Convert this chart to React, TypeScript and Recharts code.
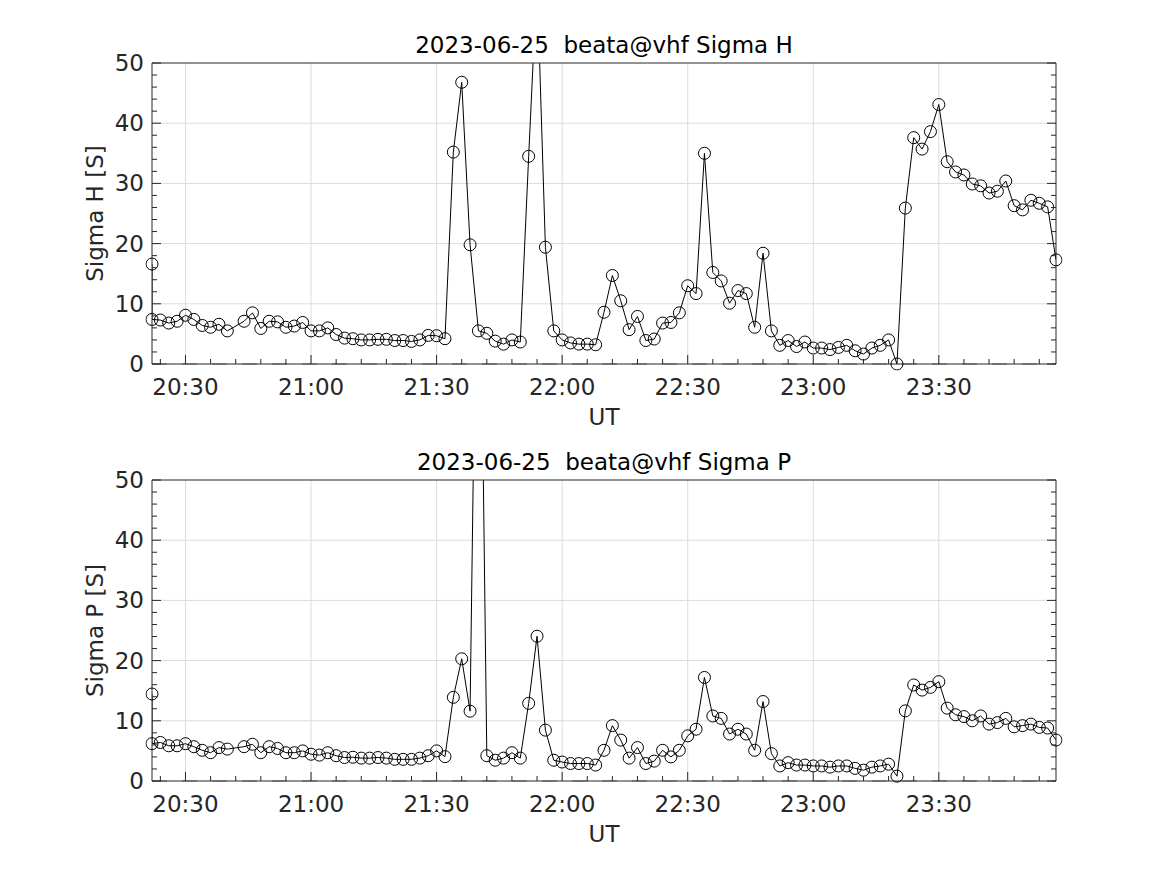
import React from 'react';
import { LineChart, Line, XAxis, YAxis, ReferenceLine } from 'recharts';

// ---- data ----
const times: string[] = [
  '20:22', '20:22', '20:24', '20:26', '20:28', '20:30', '20:32', '20:34', '20:36', '20:38', '20:40',
  '20:44', '20:46', '20:48', '20:50', '20:52', '20:54', '20:56', '20:58',
  '21:00', '21:02', '21:04', '21:06', '21:08', '21:10', '21:12', '21:14', '21:16', '21:18',
  '21:20', '21:22', '21:24', '21:26', '21:28', '21:30', '21:32', '21:34', '21:36', '21:38',
  '21:40', '21:42', '21:44', '21:46', '21:48', '21:50', '21:52', '21:54', '21:56', '21:58',
  '22:00', '22:02', '22:04', '22:06', '22:08', '22:10', '22:12', '22:14', '22:16', '22:18',
  '22:20', '22:22', '22:24', '22:26', '22:28', '22:30', '22:32', '22:34', '22:36', '22:38',
  '22:40', '22:42', '22:44', '22:46', '22:48', '22:50', '22:52', '22:54', '22:56', '22:58',
  '23:00', '23:02', '23:04', '23:06', '23:08', '23:10', '23:12', '23:14', '23:16', '23:18',
  '23:20', '23:22', '23:24', '23:26', '23:28', '23:30', '23:32', '23:34', '23:36', '23:38',
  '23:40', '23:42', '23:44', '23:46', '23:48', '23:50', '23:52', '23:54', '23:56', '23:58',
];

const sigmaH: number[] = [
  16.6, 7.4, 7.3, 6.8, 7.1, 8.1, 7.4, 6.4, 6.1, 6.6, 5.5,
  7.1, 8.5, 5.9, 7.1, 7.0, 6.1, 6.3, 6.9,
  5.5, 5.5, 6.0, 4.9, 4.3, 4.2, 4.0, 4.0, 4.1, 4.1,
  3.9, 3.9, 3.75, 4.0, 4.75, 4.7, 4.2, 35.2, 46.8, 19.8,
  5.5, 5.1, 3.8, 3.3, 4.0, 3.65, 34.5, 64, 19.4, 5.5,
  4.0, 3.5, 3.3, 3.3, 3.2, 8.6, 14.7, 10.5, 5.7, 7.9,
  3.9, 4.15, 6.8, 6.9, 8.5, 13.0, 11.7, 35.0, 15.2, 13.8,
  10.1, 12.2, 11.7, 6.1, 18.4, 5.5, 3.1, 3.9, 2.9, 3.65,
  2.65, 2.65, 2.4, 2.75, 3.1, 2.2, 1.65, 2.65, 3.1, 4.0,
  0, 25.9, 37.6, 35.7, 38.6, 43.1, 33.6, 31.9, 31.4, 29.9,
  29.6, 28.4, 28.7, 30.4, 26.3, 25.6, 27.2, 26.7, 26.1, 17.3,
];

const sigmaP: number[] = [
  14.45, 6.2, 6.4, 5.85, 5.85, 6.2, 5.7, 5.1, 4.7, 5.55, 5.3,
  5.7, 6.1, 4.7, 5.7, 5.4, 4.7, 4.7, 5.0,
  4.45, 4.3, 4.7, 4.2, 3.9, 3.95, 3.8, 3.8, 3.9, 3.8,
  3.6, 3.6, 3.6, 3.8, 4.2, 5.0, 4.05, 13.9, 20.3, 11.6,
  115, 4.2, 3.45, 3.8, 4.7, 3.8, 12.9, 24.05, 8.45, 3.45,
  3.15, 2.9, 2.9, 2.9, 2.65, 5.1, 9.2, 6.8, 3.8, 5.55,
  2.9, 3.3, 5.1, 4.0, 5.1, 7.5, 8.6, 17.2, 10.8, 10.4,
  7.8, 8.6, 7.8, 5.1, 13.2, 4.55, 2.5, 3.05, 2.65, 2.65,
  2.5, 2.5, 2.3, 2.5, 2.5, 2.1, 1.8, 2.3, 2.5, 2.8,
  0.8, 11.65, 15.95, 15.1, 15.55, 16.5, 12.1, 11.0, 10.7, 10.0,
  10.8, 9.45, 9.7, 10.4, 9.0, 9.2, 9.45, 8.9, 8.8, 6.8,
];

const xTickLabels: string[] = ['20:30', '21:00', '21:30', '22:00', '22:30', '23:00', '23:30'];
const yTickLabels: number[] = [0, 10, 20, 30, 40, 50];
const xRange: string[] = ['20:22', '23:58'];
const yRange: number[] = [0, 50];

const dateStr = '2023-06-25';
const station = 'beata@vhf';

// ---- helpers ----
const toMin = (s: string) => {
  const [h, m] = s.split(':').map(Number);
  return h * 60 + m;
};
const fmt = (v: number) => {
  const h = Math.floor(v / 60);
  const m = v % 60;
  return `${String(h).padStart(2, '0')}:${String(m).padStart(2, '0')}`;
};

const xMajor = xTickLabels.map(toMin);
const xDomain = [toMin(xRange[0]), toMin(xRange[1])];
const xAll: number[] = [];
for (let v = xMajor[0] - 6; v <= xDomain[1]; v += 6) if (v >= xDomain[0]) xAll.push(v);
const yAll: number[] = [];
for (let v = yRange[0]; v <= yRange[1]; v += 2) yAll.push(v);

const dataH = times.map((t, i) => ({ t: toMin(t), v: sigmaH[i] }));
const dataP = times.map((t, i) => ({ t: toMin(t), v: sigmaP[i] }));

const AX = '#262626';
const FONT = 'DejaVu Sans';
const FS = 23;
const MAJ = 9;
const MIN = 5;

const BottomTick = (props: any) => {
  const { x, y, payload } = props;
  const v = payload.value;
  const major = xMajor.includes(v);
  return (
    <g>
      <line x1={x} x2={x} y1={y} y2={y - (major ? MAJ : MIN)} stroke={AX} strokeWidth={1} />
      {major && (
        <text x={x} y={y + 31} textAnchor="middle" fontFamily={FONT} fontSize={FS} fill={AX}>
          {fmt(v)}
        </text>
      )}
    </g>
  );
};
const TopTick = (props: any) => {
  const { x, y, payload } = props;
  const major = xMajor.includes(payload.value);
  return <line x1={x} x2={x} y1={y} y2={y + (major ? MAJ : MIN)} stroke={AX} strokeWidth={1} />;
};
const LeftTick = (props: any) => {
  const { x, y, payload } = props;
  const v = payload.value;
  const major = yTickLabels.includes(v);
  return (
    <g>
      <line x1={x} x2={x + (major ? MAJ : MIN)} y1={y} y2={y} stroke={AX} strokeWidth={1} />
      {major && (
        <text x={x - 8} y={y + 8} textAnchor="end" fontFamily={FONT} fontSize={FS} fill={AX}>
          {v}
        </text>
      )}
    </g>
  );
};
const RightTick = (props: any) => {
  const { x, y, payload } = props;
  const major = yTickLabels.includes(payload.value);
  return <line x1={x} x2={x - (major ? MAJ : MIN)} y1={y} y2={y} stroke={AX} strokeWidth={1} />;
};

const W = 1167;
const H = 417;

function Panel({ data }: { data: { t: number; v: number }[] }) {
  return (
    <LineChart width={W} height={H} data={data} margin={{ top: 58, right: 106, bottom: 13, left: 102 }}>
      {xMajor.map((v) => (
        <ReferenceLine key={'gx' + v} x={v} stroke="#dcdcdc" strokeWidth={1} />
      ))}
      {yTickLabels.slice(1, -1).map((v) => (
        <ReferenceLine key={'gy' + v} y={v} stroke="#dcdcdc" strokeWidth={1} />
      ))}
      <XAxis
        dataKey="t"
        type="number"
        domain={xDomain}
        allowDataOverflow
        ticks={xAll}
        interval={0}
        height={40}
        tickSize={0}
        tickMargin={0}
        tickLine={false}
        axisLine={{ stroke: AX }}
        tick={<BottomTick />}
      />
      <XAxis
        xAxisId="top"
        orientation="top"
        type="number"
        domain={xDomain}
        allowDataOverflow
        ticks={xAll}
        interval={0}
        height={5}
        tickSize={0}
        tickMargin={0}
        tickLine={false}
        axisLine={{ stroke: AX }}
        tick={<TopTick />}
      />
      <YAxis
        type="number"
        domain={yRange}
        allowDataOverflow
        ticks={yAll}
        interval={0}
        width={50}
        tickSize={0}
        tickMargin={0}
        tickLine={false}
        axisLine={{ stroke: AX }}
        tick={<LeftTick />}
      />
      <YAxis
        yAxisId="right"
        orientation="right"
        type="number"
        domain={yRange}
        allowDataOverflow
        ticks={yAll}
        interval={0}
        width={5}
        tickSize={0}
        tickMargin={0}
        tickLine={false}
        axisLine={{ stroke: AX }}
        tick={<RightTick />}
      />
      <ReferenceLine y={0} stroke="#a8a8a8" strokeWidth={1.5} strokeDasharray="15 15" />
      <Line
        type="linear"
        dataKey="v"
        stroke="#000"
        strokeWidth={1}
        dot={{ r: 6, fill: 'none', stroke: '#000', strokeWidth: 1, clipDot: false }}
        activeDot={false}
        isAnimationActive={false}
      />
    </LineChart>
  );
}

export default function App() {
  const textStyle: React.CSSProperties = { whiteSpace: 'pre' };
  return (
    <div style={{ position: 'absolute', left: 0, top: 0, width: W, height: 875, background: '#fff' }}>
      <div style={{ position: 'absolute', left: 0, top: 0 }}>
        <Panel data={dataH} />
      </div>
      <div style={{ position: 'absolute', left: 0, top: H }}>
        <Panel data={dataP} />
      </div>
      <svg
        width={W}
        height={875}
        style={{ position: 'absolute', left: 0, top: 0, pointerEvents: 'none' }}
        fontFamily={FONT}
        fontSize={FS}
      >
        <text x={604} y={53} textAnchor="middle" fill="#000" style={textStyle}>
          {`${dateStr}  ${station} Sigma H`}
        </text>
        <text x={604} y={425} textAnchor="middle" fill={AX}>UT</text>
        <text x={103} y={213.5} textAnchor="middle" fill={AX} transform="rotate(-90 103 213.5)">
          Sigma H [S]
        </text>
        <text x={604} y={53 + H} textAnchor="middle" fill="#000" style={textStyle}>
          {`${dateStr}  ${station} Sigma P`}
        </text>
        <text x={604} y={425 + H} textAnchor="middle" fill={AX}>UT</text>
        <text x={103} y={213.5 + H} textAnchor="middle" fill={AX} transform={`rotate(-90 103 ${213.5 + H})`}>
          Sigma P [S]
        </text>
      </svg>
    </div>
  );
}
